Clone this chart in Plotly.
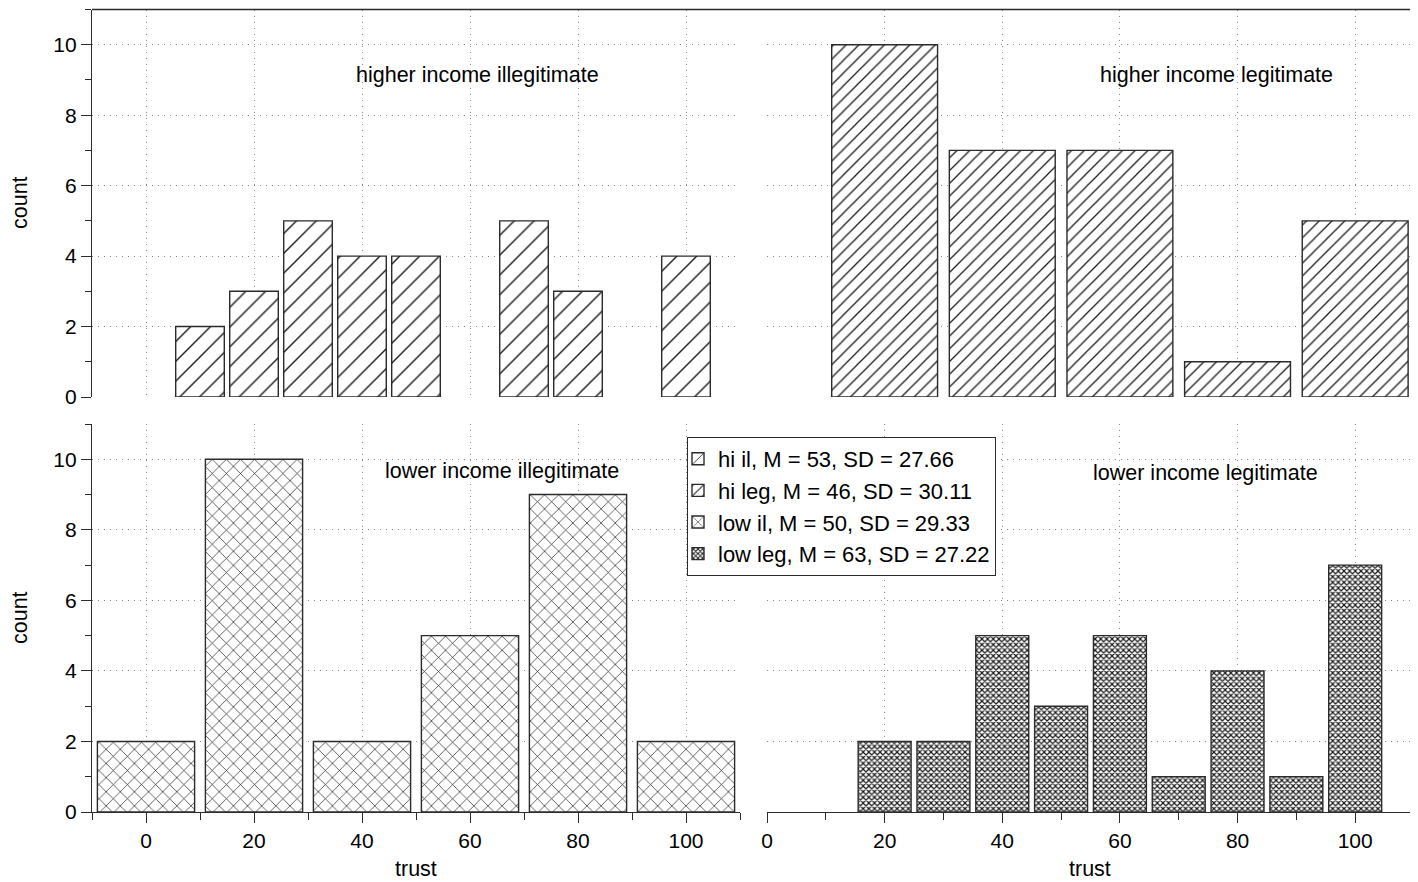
import plotly.graph_objects as go

# ---------------- data ----------------
hi_il_x = [10, 20, 30, 40, 50, 70, 80, 100]
hi_il_y = [2, 3, 5, 4, 4, 5, 3, 4]

hi_leg_x = [20, 40, 60, 80, 100]
hi_leg_y = [10, 7, 7, 1, 5]

low_il_x = [0, 20, 40, 60, 80, 100]
low_il_y = [2, 10, 2, 5, 9, 2]

low_leg_x = [20, 30, 40, 50, 60, 70, 80, 90, 100]
low_leg_y = [2, 2, 5, 3, 5, 1, 4, 1, 7]

legend_names = [
    "hi il, M = 53, SD = 27.66",
    "hi leg, M = 46, SD = 30.11",
    "low il, M = 50, SD = 29.33",
    "low leg, M = 63, SD = 27.22",
]
panel_titles = [
    "higher income illegitimate",
    "higher income legitimate",
    "lower income illegitimate",
    "lower income legitimate",
]
y_ticks = [0, 2, 4, 6, 8, 10]
x_ticks = [0, 20, 40, 60, 80, 100]

# ---------------- geometry ----------------
OFF = 8                      # default page (body) margin
W, H = 1418 - OFF, 882 - OFF
FONT = "Liberation Sans, Arial, sans-serif"
EDGE = "#2b2b2b"
GRID = "#8c8c8c"


def px_x(p):
    return (p - OFF) / W


def px_y(p):
    return 1 - (p - OFF) / H


dom_xl = [px_x(92), px_x(740)]
dom_xr = [px_x(767), px_x(1414)]
dom_yt = [px_y(397), px_y(9.5)]
dom_yb = [px_y(812), px_y(424)]

fig = go.Figure()


def bar(x, y, width, shape, size, solidity, name, xa, ya):
    fig.add_trace(go.Bar(
        x=x, y=y, width=width, name=name, xaxis=xa, yaxis=ya,
        marker=dict(
            color="white",
            line=dict(color=EDGE, width=1.4),
            pattern=dict(shape=shape, size=size, solidity=solidity,
                         fgcolor="#1a1a1a", bgcolor="white", fgopacity=1),
        ),
        showlegend=True,
    ))


bar(hi_il_x, hi_il_y, 9, "/", 14, 0.1, legend_names[0], "x", "y")
bar(hi_leg_x, hi_leg_y, 18, "/", 9, 0.14, legend_names[1], "x2", "y2")
bar(low_il_x, low_il_y, 18, "x", 10, 0.13, legend_names[2], "x3", "y3")
bar(low_leg_x, low_leg_y, 9, "x", 4, 0.5, legend_names[3], "x4", "y4")

tickfont = dict(family=FONT, size=21, color="black")
GRIDDASH = "1px,5px"

common_y = dict(range=[0, 11], tickvals=y_ticks, showgrid=True, gridcolor=GRID,
                griddash=GRIDDASH, gridwidth=1, zeroline=False, tickfont=tickfont,
                automargin=False)
common_x_left = dict(range=[-10, 110], tickvals=x_ticks, showgrid=True, gridcolor=GRID,
                     griddash=GRIDDASH, gridwidth=1, zeroline=False, tickfont=tickfont,
                     automargin=False)
common_x_right = dict(range=[0, 110], tickvals=x_ticks, showgrid=True, gridcolor=GRID,
                      griddash=GRIDDASH, gridwidth=1, zeroline=False, tickfont=tickfont,
                      automargin=False)

y_left_style = dict(showline=True, linecolor=EDGE, linewidth=1.3, ticks="outside",
                    ticklen=10, tickcolor=EDGE, tickwidth=1.3, showticklabels=True,
                    minor=dict(tickvals=[1, 3, 5, 7, 9, 11], ticks="outside",
                               ticklen=6, tickcolor=EDGE, showgrid=False))
y_right_style = dict(showline=False, ticks="", showticklabels=False)

x_bottom_style = dict(showline=True, linecolor=EDGE, linewidth=1.3, ticks="outside",
                      ticklen=10, tickcolor=EDGE, tickwidth=1.3, showticklabels=True)
x_top_style = dict(showline=False, ticks="", showticklabels=False)

fig.update_layout(
    xaxis=dict(domain=dom_xl, anchor="y", **common_x_left, **x_top_style),
    yaxis=dict(domain=dom_yt, anchor="x", **common_y, **y_left_style),
    xaxis2=dict(domain=dom_xr, anchor="y2", **common_x_right, **x_top_style),
    yaxis2=dict(domain=dom_yt, anchor="x2", **common_y, **y_right_style),
    xaxis3=dict(domain=dom_xl, anchor="y3", **common_x_left, **x_bottom_style,
                minor=dict(tickvals=[-10, 10, 30, 50, 70, 90, 110], ticks="outside",
                           ticklen=7, tickcolor=EDGE, showgrid=False)),
    yaxis3=dict(domain=dom_yb, anchor="x3", **common_y, **y_left_style),
    xaxis4=dict(domain=dom_xr, anchor="y4", **common_x_right, **x_bottom_style,
                minor=dict(tickvals=[10, 30, 50, 70, 90, 110], ticks="outside",
                           ticklen=7, tickcolor=EDGE, showgrid=False)),
    yaxis4=dict(domain=dom_yb, anchor="x4", **common_y, **y_right_style),
)

# panel titles
ann_pos = [("x", "y", 61.4, 9.15), ("x2", "y2", 76.5, 9.15),
           ("x3", "y3", 65.9, 9.66), ("x4", "y4", 74.5, 9.6)]
annotations = []
for (xr, yr, ax, ay), t in zip(ann_pos, panel_titles):
    annotations.append(dict(x=ax, y=ay, xref=xr, yref=yr, text=t, showarrow=False,
                            font=dict(family=FONT, size=21.5, color="black"),
                            xanchor="center", yanchor="middle"))

# axis titles
for yc in (203, 618):
    annotations.append(dict(x=px_x(20), y=px_y(yc), xref="paper", yref="paper",
                            text="count", textangle=-90, showarrow=False,
                            font=dict(family=FONT, size=21.5, color="black"),
                            xanchor="center", yanchor="middle"))
for xc in (416, 1090):
    annotations.append(dict(x=px_x(xc), y=0, xref="paper", yref="paper",
                            text="trust", showarrow=False,
                            font=dict(family=FONT, size=21.5, color="black"),
                            xanchor="center", yanchor="bottom", borderpad=0))

shapes = [
    dict(type="line", xref="paper", yref="paper", x0=px_x(92), x1=px_x(1414),
         y0=px_y(9.5), y1=px_y(9.5), line=dict(color=EDGE, width=1.5)),
    dict(type="line", xref="paper", yref="paper", x0=px_x(1414), x1=px_x(1414),
         y0=px_y(9.5), y1=px_y(812), line=dict(color=EDGE, width=1.5)),
]

fig.update_layout(
    width=W, height=H,
    autosize=False,
    margin=dict(l=0, r=0, t=0, b=0, pad=0),
    paper_bgcolor="white", plot_bgcolor="white",
    barmode="overlay",
    annotations=annotations,
    shapes=shapes,
    font=dict(family=FONT, size=18, color="black"),
    legend=dict(x=px_x(687), y=px_y(437), xanchor="left", yanchor="top",
                bordercolor=EDGE, borderwidth=1, bgcolor="white",
                font=dict(family=FONT, size=22, color="black"),
                itemwidth=30, tracegroupgap=0, indentation=-10),
)

fig.write_html("out.html")
